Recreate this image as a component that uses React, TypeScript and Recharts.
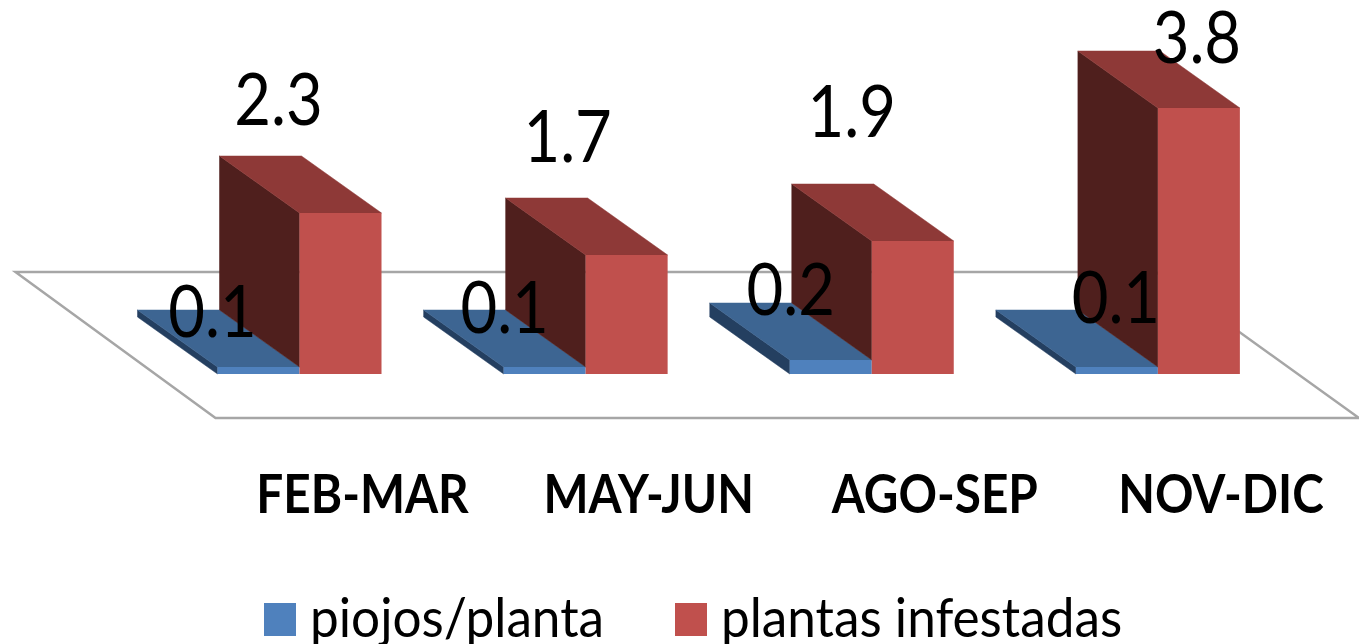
import { Bar, BarChart, LabelList, Legend, XAxis, YAxis, usePlotArea } from "recharts";

const categories = ["FEB-MAR", "MAY-JUN", "AGO-SEP", "NOV-DIC"];
const piojos = [0.1, 0.1, 0.2, 0.1];
const plantas = [2.3, 1.7, 1.9, 3.8];

const data = categories.map((name, i) => ({ name, piojos: piojos[i], plantas: plantas[i] }));

// hand placed labels, the source chart scatters them around the bars
const piojosLabelOffset = [[-46, -30], [-40, -34], [-40, -45], [-1, -44]];
const plantasLabelOffset = [[-62, -88], [-59, -93], [-61, -104], [-2, -45]];

const DEPTH_X = 80;
const DEPTH_Y = 57;
const FONT = "Lato, 'Open Sans', sans-serif";

function Floor() {
  const plot = usePlotArea();
  if (!plot) return null;
  const front = plot.y + plot.height + 44;
  const back = front - 146;
  const left = plot.x + 59;
  const right = plot.x + plot.width + 58;
  const pts = `${left - 200},${back} ${right - 203},${back} ${right},${front} ${left},${front}`;
  return <polygon points={pts} fill="#fff" stroke="#a6a6a6" strokeWidth={2.5} />;
}

function Box3D(props: any) {
  const { x, y, width, height, front, side, top, payload, hideUnder } = props;
  const base = y + height;
  // the red side stops where the blue bar sitting next to it begins
  const under = hideUnder ? (payload.piojos * height) / payload.plantas : 0;
  return (
    <g>
      <polygon
        points={`${x},${y} ${x - DEPTH_X},${y - DEPTH_Y} ${x - DEPTH_X},${base - DEPTH_Y - under} ${x},${base - under}`}
        fill={side}
        stroke={side}
        strokeWidth={0.5}
      />
      <polygon
        points={`${x},${y} ${x - DEPTH_X},${y - DEPTH_Y} ${x + width - DEPTH_X},${y - DEPTH_Y} ${x + width},${y}`}
        fill={top}
        stroke={top}
        strokeWidth={0.5}
      />
      <rect x={x} y={y} width={width} height={height} fill={front} />
    </g>
  );
}

function ValueLabel(props: any, offsets: number[][]) {
  const { x, y, width, value, index } = props;
  const [dx, dy] = offsets[index];
  const cx = x + width / 2 + dx;
  return (
    <text
      transform={`translate(${cx},${y + dy}) scale(0.88,1)`}
      textAnchor="middle"
      fontFamily={FONT}
      fontSize={72}
      fill="#000"
    >
      {value}
    </text>
  );
}

function CategoryTick(props: any) {
  const { x, payload } = props;
  return (
    <text
      transform={`translate(${x + 63},513) scale(0.9,1)`}
      textAnchor="middle"
      fontFamily={FONT}
      fontWeight={700}
      fontSize={53}
      fill="#000"
    >
      {payload.value}
    </text>
  );
}

const legendX = [264, 675];

function LegendRow({ payload }: any) {
  return (
    <div style={{ position: "relative", height: 54 }}>
      {(payload || []).map((entry: any, i: number) => (
        <div key={entry.value} style={{ position: "absolute", left: legendX[i], top: 0, whiteSpace: "nowrap" }}>
          <span
            style={{ position: "absolute", left: 0, top: 13, width: 32, height: 33, background: entry.color }}
          />
          <span
            style={{
              position: "absolute",
              left: 46,
              top: -6,
              fontFamily: FONT,
              fontSize: 54,
              lineHeight: "66px",
              color: "#000",
              transform: "scaleX(0.95)",
              transformOrigin: "left",
            }}
          >
            {entry.value}
          </span>
        </div>
      ))}
    </div>
  );
}

export default function App() {
  return (
    <div style={{ position: "absolute", left: 0, top: 0, width: 1359, height: 644, overflow: "hidden" }}>
      <BarChart
        width={1359}
        height={644}
        data={data}
        margin={{ top: 94, right: 58, bottom: 186, left: 156.5 }}
        barSize={82}
        barGap={0}
      >
        <Floor />
        <XAxis dataKey="name" axisLine={false} tickLine={false} tick={<CategoryTick />} interval={0} />
        <YAxis hide domain={[0, 4]} />
        <Legend
          content={<LegendRow />}
          wrapperStyle={{ left: 0, top: 590, width: 1359, height: 54 }}
        />
        <Bar
          dataKey="piojos"
          name="piojos/planta"
          fill="#4f81bd"
          isAnimationActive={false}
          shape={(p: any) => <Box3D {...p} front="#4f81bd" side="#243f60" top="#3d6592" />}
        >
          <LabelList dataKey="piojos" content={(p: any) => ValueLabel(p, piojosLabelOffset)} />
        </Bar>
        <Bar
          dataKey="plantas"
          name="plantas infestadas"
          fill="#c0504d"
          isAnimationActive={false}
          shape={(p: any) => <Box3D {...p} front="#c0504d" side="#4f1f1d" top="#8e3937" hideUnder />}
        >
          <LabelList dataKey="plantas" content={(p: any) => ValueLabel(p, plantasLabelOffset)} />
        </Bar>
      </BarChart>
    </div>
  );
}
